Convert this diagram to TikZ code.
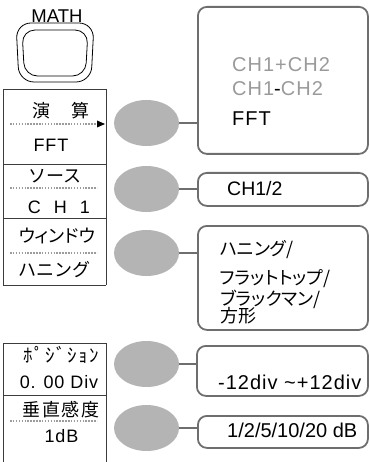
\documentclass[tikz,border=0pt]{standalone}
\usepackage{fontspec}
\setmainfont{Liberation Sans}
\newfontfamily\jp{Noto Sans CJK JP}
\newfontfamily\jpp[RawFeature=+palt]{Noto Sans CJK JP}
\newfontfamily\lsp[LetterSpace=5]{Liberation Sans}
\newfontfamily\jpsp[LetterSpace=8]{Noto Sans CJK JP}
\newfontfamily\jpsq[LetterSpace=8]{Noto Sans CJK JP}
\usetikzlibrary{shapes.geometric}
\definecolor{boxgray}{HTML}{6E6E6E}
\definecolor{elgray}{HTML}{B4B4B4}
\definecolor{txtgray}{HTML}{9A9A9A}
\definecolor{dotgray}{HTML}{9C9C9C}
\definecolor{panelline}{HTML}{3C3C3C}
\begin{document}
\begin{tikzpicture}[x=1pt,y=-1pt,
 optbox/.style={draw=boxgray, line width=1.8pt, rounded corners=9pt, anchor=north west, inner sep=0pt},
 knob/.style={ellipse, fill=elgray, minimum width=65pt, minimum height=46pt, inner sep=0pt},
 link/.style={draw=boxgray, line width=1.8pt},
 panel/.style={draw=panelline, line width=0.9pt},
 dots/.style={draw=dotgray, line width=1.6pt, dash pattern=on 1.5pt off 1.4pt},
 lbl/.style={inner sep=0pt, anchor=center},
 opt/.style={inner sep=0pt, anchor=west},
 latL/.style={font=\lsp\fontsize{18pt}{20pt}\selectfont},
 jpL/.style={font=\jp\fontsize{18pt}{20pt}\selectfont},
 latR/.style={font=\lsp\fontsize{20pt}{22pt}\selectfont},
 jpR/.style={font=\jpp\fontsize{18pt}{20pt}\selectfont},
 btn/.style={draw=black, line width=0.8pt, rounded corners=15pt}
]
\useasboundingbox (0,0) rectangle (369,462);

% MATH button
\node[lbl, font=\fontsize{18.5pt}{20pt}\selectfont] (math) at (57,16) {MATH};
\draw[btn] (16,23) -- (94,23) -- (91,82) -- (19,82) -- cycle;
\draw[btn, rounded corners=13pt] (22,30) -- (88,30) -- (85.5,76) -- (24.5,76) -- cycle;

% left panel
\draw[panel] (3,89) -- (3,285) (106,89) -- (106,285);
\draw[panel] (3,89) -- (106,89) (3,164) -- (106,164) (3,218) -- (106,218) (3,285) -- (106,285);
\draw[panel] (3,343) -- (3,462) (106,343) -- (106,462);
\draw[panel] (3,343) -- (106,343) (3,395) -- (106,395);

\node[lbl, jpL] (m1a) at (61,111) {演\hspace{21pt}算};
\draw[dots] (10,124) -- (96,124);
\fill[black] (97,120.5) -- (105,124) -- (97,127.5) -- cycle;
\node[lbl, latL] (m1b) at (51,145) {FFT};

\node[lbl, jpL] (m2a) at (55,176) {ソース};
\draw[dots] (10,188) -- (97,188);
\node[lbl, latL] (m2b) at (59,207) {C\hspace{13pt}H\hspace{13pt}1};

\node[lbl, font=\jpp\fontsize{18pt}{20pt}\selectfont] (m3a) at (57,236) {ウィンドウ};
\draw[dots] (10,253) -- (97,253);
\node[lbl, jpL] (m3b) at (54,270) {ハニング};

\node[lbl, font=\jpsp\fontsize{19pt}{20pt}\selectfont] (m4a) at (61,355) {ﾎﾟｼﾞｼｮﾝ};
\node[lbl, latL] (m4b) at (59,382) {0. 00 Div};

\node[lbl, font=\jpsq\fontsize{18pt}{20pt}\selectfont] (m5a) at (61,410) {垂直感度};
\draw[dots] (10,421) -- (97,421);
\node[lbl, latL] (m5b) at (61.5,436) {1dB};

% knobs
\node[knob] (k1) at (146.5,123) {};
\node[knob] (k2) at (146.5,189) {};
\node[knob] (k3) at (146.5,253) {};
\node[knob] (k4) at (146.5,364) {};
\node[knob] (k5) at (146.5,428) {};

% option boxes
\node[optbox, minimum width=170pt, minimum height=147pt] (b1) at (197,6) {};
\node[optbox, minimum width=170pt, minimum height=33pt] (b2) at (197,172) {};
\node[optbox, minimum width=170pt, minimum height=104pt] (b3) at (197,225) {};
\node[optbox, minimum width=171pt, minimum height=50pt] (b4) at (196,345) {};
\node[optbox, minimum width=170pt, minimum height=32pt] (b5) at (197,415) {};

% connectors
\draw[link] (k1.east) -- (k1.east -| b1.west);
\draw[link] (k2.east) -- (k2.east -| b2.west);
\draw[link] (k3.east) -- (k3.east -| b3.west);
\draw[link] (k4.east) -- (k4.east -| b4.west);
\draw[link] (k5.east) -- (k5.east -| b5.west);

% option texts
\node[opt, latR, text=txtgray] (o1a) at (232,65) {CH1+CH2};
\node[opt, latR] (o1b) at (232,89) {\textcolor{txtgray}{CH1}-\textcolor{txtgray}{CH2}};
\node[opt, latR] (o1c) at (232,119) {FFT};
\node[opt, font=\fontsize{19.5pt}{21pt}\selectfont] (o2) at (227,189) {CH1/2};
\node[opt, jpR] (o3a) at (220,250) {ハニング/};
\node[opt, jpR] (o3b) at (220,279) {フラットトップ/};
\node[opt, jpR] (o3c) at (220,299) {ブラックマン/};
\node[opt, jpR] (o3d) at (220,316) {方形};
\node[opt, latR] (o4) at (218,382) {-12div \textasciitilde+12div};
\node[opt, font=\fontsize{20pt}{22pt}\selectfont] (o5) at (227,430) {1/2/5/10/20 dB};
\end{tikzpicture}
\end{document}
